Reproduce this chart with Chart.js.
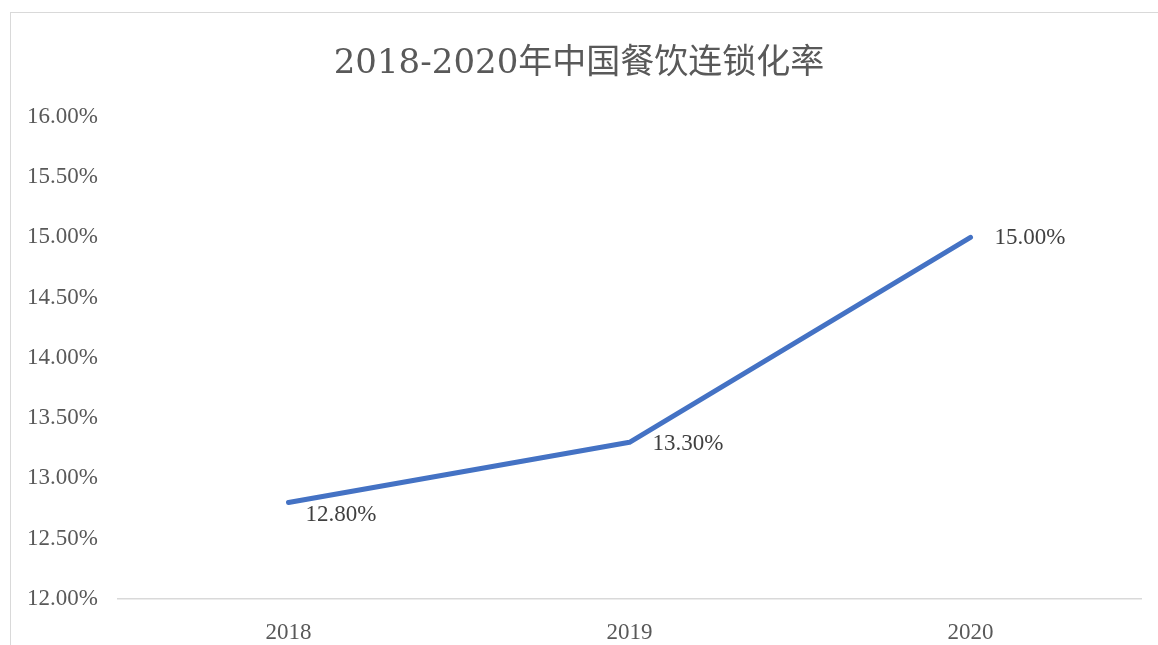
<!DOCTYPE html>
<html>
<head>
<meta charset="utf-8">
<script src="https://cdn.jsdelivr.net/npm/chart.js@4"></script>
<style>
  body { margin: 0; background: #fff; }
  #frame { position: absolute; left: 10px; top: 12px; width: 1200px; height: 700px; border: 1.5px solid #d9d9d9; }
  #wrap { position: absolute; left: 0; top: 0; width: 1158px; height: 645px; }
</style>
</head>
<body>
<div id="frame"></div>
<div id="wrap"><canvas id="grafico"></canvas></div>
<script>
const anios = ["2018", "2019", "2020"];
const tasaCadena = [12.8, 13.3, 15.0];
const ticksY = [12, 12.5, 13, 13.5, 14, 14.5, 15, 15.5, 16];
const titulo = "2018-2020年中国餐饮连锁化率";

const fuente = "'Liberation Serif', 'Noto Sans CJK SC', serif";

// etiquetas de datos al lado de cada punto (como en Excel)
const etiquetas = {
  id: "etiquetas",
  afterDatasetsDraw(chart, args, opts) {
    const ctx = chart.ctx;
    const meta = chart.getDatasetMeta(0);
    ctx.save();
    ctx.font = "23px " + fuente;
    ctx.fillStyle = "#404040";
    ctx.textAlign = "left";
    ctx.textBaseline = "middle";
    meta.data.forEach((p, i) => {
      const d = opts.desplazamientos[i];
      ctx.fillText(tasaCadena[i].toFixed(2) + "%", p.x + d[0], p.y + d[1]);
    });
    ctx.restore();
  }
};

const config = {
  type: "line",
  data: {
    labels: anios,
    datasets: [{
      data: tasaCadena,
      borderColor: "#4472C4",
      borderWidth: 5,
      borderCapStyle: "round",
      borderJoinStyle: "round",
      pointRadius: 0,
      tension: 0
    }]
  },
  options: {
    responsive: true,
    maintainAspectRatio: false,
    animation: false,
    layout: { padding: 0 },
    scales: {
      x: {
        offset: true,
        grid: { display: false },
        border: { display: true, color: "#d9d9d9", width: 1.5 },
        ticks: { color: "#595959", font: { family: fuente, size: 23 }, padding: 12 },
        afterFit: (s) => { s.height = 46; }
      },
      y: {
        min: 12,
        max: 16,
        grid: { display: false, drawTicks: false },
        border: { display: false },
        afterBuildTicks: (s) => { s.ticks = ticksY.map(v => ({ value: v })); },
        ticks: {
          color: "#595959",
          font: { family: fuente, size: 23 },
          padding: 20,
          callback: (v) => v.toFixed(2) + "%"
        },
        afterFit: (s) => { s.width = 118; }
      },
      // eje vacio a la derecha solo para dejar margen
      yDer: {
        position: "right",
        grid: { display: false },
        border: { display: false },
        ticks: { display: false },
        afterFit: (s) => { s.width = 17; }
      }
    },
    plugins: {
      legend: { display: false },
      tooltip: { enabled: false },
      title: {
        display: true,
        text: titulo,
        color: "#595959",
        font: { family: "'DejaVu Serif', 'Noto Sans CJK SC', serif", size: 34, weight: "normal", lineHeight: 1.2 },
        padding: { top: 44, bottom: 32 }
      },
      etiquetas: { desplazamientos: [[17, 12], [23, 2], [24, 1]] }
    }
  },
  plugins: [etiquetas]
};

new Chart(document.getElementById("grafico"), config);
</script>
</body>
</html>
